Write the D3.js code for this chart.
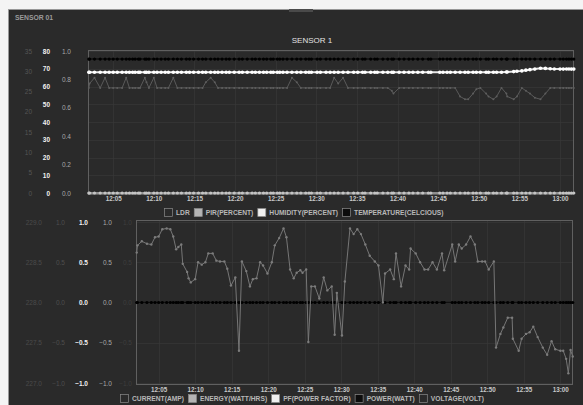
<!DOCTYPE html>
<html>
<head>
<meta charset="utf-8">
<script src="https://cdn.jsdelivr.net/npm/d3@7"></script>
<style>
  body { margin: 0; background: #f4f4f4; }
  text { font-family: "Liberation Sans", Arial, sans-serif; }
</style>
</head>
<body>
<div id="chart"></div>
<script>
// sample times, minutes after 12:00
const minutesAfterNoon = [
  2.0, 2.1, 2.7, 3.4, 4.0, 4.5, 5.0, 5.5, 6.1, 6.6,
  7.0, 7.4, 7.7, 8.1, 8.3, 8.9, 9.1, 9.4, 10.0, 10.4,
  10.9, 11.4, 11.8, 12.4, 12.9, 13.4, 14.0, 14.4, 14.9, 15.5,
  16.0, 16.4, 17.0, 17.5, 17.9, 18.4, 18.9, 19.3, 19.9, 20.5,
  20.9, 21.5, 22.1, 22.5, 23.0, 23.5, 23.9, 24.4, 24.7, 25.2,
  25.5, 25.9, 26.4, 27.0, 27.6, 28.1, 28.7, 29.1, 29.4, 30.1,
  30.5, 31.2, 31.7, 32.2, 32.7, 33.3, 33.9, 34.6, 35.1, 35.7,
  36.0, 36.7, 37.2, 37.5, 38.2, 38.8, 39.3, 39.5, 40.2, 40.8,
  41.4, 41.9, 42.5, 43.1, 43.8, 44.1, 45.2, 45.6, 46.1, 46.5,
  47.1, 47.7, 48.3, 48.7, 49.3, 49.7, 50.2, 50.9, 51.2, 51.8,
  52.2, 52.8, 53.4, 53.5, 54.3, 54.7, 55.3, 55.8, 56.3, 56.9,
  57.6, 58.2, 58.8, 59.3, 60.0, 60.4, 60.8, 61.1, 61.4, 61.7
];
const timeTicks = ["12:05", "12:10", "12:15", "12:20", "12:25", "12:30",
                   "12:35", "12:40", "12:45", "12:50", "12:55", "13:00"];

// SENSOR 1 (top)
const ldr = [
  25.9, 27.0, 28.4, 25.9, 28.4, 25.9, 25.9, 25.9, 25.9, 28.4,
  25.9, 25.9, 25.9, 25.9, 25.9, 28.4, 27.3, 25.9, 28.4, 25.9,
  25.9, 25.9, 25.9, 28.4, 25.9, 25.9, 25.9, 25.9, 25.9, 25.9,
  25.9, 27.3, 28.4, 27.3, 25.9, 25.9, 25.9, 25.9, 25.9, 25.9,
  25.9, 25.9, 25.9, 25.9, 25.9, 25.9, 25.9, 25.9, 25.9, 25.9,
  25.9, 25.9, 25.9, 28.4, 27.3, 25.9, 25.9, 25.9, 25.9, 25.9,
  25.9, 25.9, 25.9, 28.4, 27.0, 28.4, 25.9, 25.9, 25.9, 25.9,
  25.9, 25.9, 25.9, 25.9, 25.9, 25.9, 25.2, 24.5, 25.9, 25.9,
  25.9, 25.9, 25.9, 25.9, 25.9, 25.9, 25.9, 25.9, 25.9, 25.9,
  25.9, 23.8, 23.1, 23.1, 24.5, 25.6, 25.9, 24.5, 23.8, 23.1,
  23.8, 25.9, 24.5, 23.8, 23.1, 23.8, 25.9, 25.2, 24.5, 23.5,
  23.1, 24.5, 25.9, 25.9, 25.9, 25.9, 25.9, 25.9, 25.9, 25.9
];
const pirPercent = [
  0, 0, 0, 0, 0, 0, 0, 0, 0, 0,  0, 0, 0, 0, 0, 0, 0, 0, 0, 0,
  0, 0, 0, 0, 0, 0, 0, 0, 0, 0,  0, 0, 0, 0, 0, 0, 0, 0, 0, 0,
  0, 0, 0, 0, 0, 0, 0, 0, 0, 0,  0, 0, 0, 0, 0, 0, 0, 0, 0, 0,
  0, 0, 0, 0, 0, 0, 0, 0, 0, 0,  0, 0, 0, 0, 0, 0, 0, 0, 0, 0,
  0, 0, 0, 0, 0, 0, 0, 0, 0, 0,  0, 0, 0, 0, 0, 0, 0, 0, 0, 0,
  0, 0, 0, 0, 0, 0, 0, 0, 0, 0,  0, 0, 0, 0, 0, 0, 0, 0, 0, 0
];
const humidity = [
  68, 68, 68, 68, 68, 68, 68, 68, 68, 68,  68, 68, 68, 68, 68, 68, 68, 68, 68, 68,
  68, 68, 68, 68, 68, 68, 68, 68, 68, 68,  68, 68, 68, 68, 68, 68, 68, 68, 68, 68,
  68, 68, 68, 68, 68, 68, 68, 68, 68, 68,  68, 68, 68, 68, 68, 68, 68, 68, 68, 68,
  68, 68, 68, 68, 68, 68, 68, 68, 68, 68,  68, 68, 68, 68, 68, 68, 68, 68, 68, 68,
  68, 68, 68, 68, 68, 68, 68, 68, 68, 68,  68, 68, 68, 68, 68, 68, 68, 68, 68, 68,
  68.0, 68.0, 68.2, 68.2, 68.4, 68.6, 68.8, 69.2, 69.5, 69.8,
  70.3, 70.2, 70.0, 69.9, 69.8, 69.8, 69.9, 69.9, 69.8, 69.8
];
const temperature = [
  33, 33, 33, 33, 33, 33, 33, 33, 33, 33,  33, 33, 33, 33, 33, 33, 33, 33, 33, 33,
  33, 33, 33, 33, 33, 33, 33, 33, 33, 33,  33, 33, 33, 33, 33, 33, 33, 33, 33, 33,
  33, 33, 33, 33, 33, 33, 33, 33, 33, 33,  33, 33, 33, 33, 33, 33, 33, 33, 33, 33,
  33, 33, 33, 33, 33, 33, 33, 33, 33, 33,  33, 33, 33, 33, 33, 33, 33, 33, 33, 33,
  33, 33, 33, 33, 33, 33, 33, 33, 33, 33,  33, 33, 33, 33, 33, 33, 33, 33, 33, 33,
  33, 33, 33, 33, 33, 33, 33, 33, 33, 33,  33, 33, 33, 33, 33, 33, 33, 33, 33, 33
];

// bottom panel
const current = [
  0.62, 0.71, 0.76, 0.73, 0.72, 0.81, 0.82, 0.91, 0.92, 0.91,
  0.82, 0.66, 0.69, 0.72, 0.48, 0.38, 0.30, 0.25, 0.29, 0.50,
  0.47, 0.50, 0.61, 0.61, 0.52, 0.51, 0.51, 0.42, 0.21, 0.31,
  -0.60, 0.51, 0.39, 0.20, 0.29, 0.30, 0.50, 0.46, 0.36, 0.50,
  0.71, 0.80, 0.92, 0.81, 0.41, 0.30, 0.37, 0.40, 0.37, 0.41,
  -0.49, 0.20, 0.20, 0.05, 0.31, 0.15, 0.20, -0.40, 0.12, -0.41,
  0.26, 0.92, 0.85, 0.91, 0.85, 0.72, 0.58, 0.51, 0.46, 0.00,
  0.36, 0.41, 0.29, 0.61, 0.20, 0.46, 0.41, 0.67, 0.61, 0.50,
  0.41, 0.41, 0.50, 0.41, 0.61, 0.40, 0.72, 0.51, 0.72, 0.67,
  0.72, 0.82, 0.72, 0.51, 0.51, 0.51, 0.41, 0.51, -0.56, -0.39,
  -0.31, -0.19, -0.19, -0.45, -0.60, -0.45, -0.39, -0.37, -0.30, -0.43,
  -0.56, -0.65, -0.48, -0.58, -0.60, -0.60, -0.70, -0.88, -0.59, -0.67
];
const powerWatt = [
  0, 0, 0, 0, 0, 0, 0, 0, 0, 0,  0, 0, 0, 0, 0, 0, 0, 0, 0, 0,
  0, 0, 0, 0, 0, 0, 0, 0, 0, 0,  0, 0, 0, 0, 0, 0, 0, 0, 0, 0,
  0, 0, 0, 0, 0, 0, 0, 0, 0, 0,  0, 0, 0, 0, 0, 0, 0, 0, 0, 0,
  0, 0, 0, 0, 0, 0, 0, 0, 0, 0,  0, 0, 0, 0, 0, 0, 0, 0, 0, 0,
  0, 0, 0, 0, 0, 0, 0, 0, 0, 0,  0, 0, 0, 0, 0, 0, 0, 0, 0, 0,
  0, 0, 0, 0, 0, 0, 0, 0, 0, 0,  0, 0, 0, 0, 0, 0, 0, 0, 0, 0
];

// axis ticks
const ldrTicks = [0, 5, 10, 15, 20, 25, 30, 35];
const humidityTicks = [0, 10, 20, 30, 40, 50, 60, 70, 80];
const pirTicks = [0, 0.2, 0.4, 0.6, 0.8, 1.0];
const voltageTicks = [227.0, 227.5, 228.0, 228.5, 229.0];
const unitTicks = [-1.0, -0.5, 0.0, 0.5, 1.0];

const topLegend = ["LDR", "PIR(PERCENT)", "HUMIDITY(PERCENT)", "TEMPERATURE(CELCIOUS)"];
const topLegendColors = ["#2a2a2a", "#b4b4b4", "#f0f0f0", "#0c0c0c"];
const bottomLegend = ["CURRENT(AMP)", "ENERGY(WATT/HRS)", "PF(POWER FACTOR)", "POWER(WATT)", "VOLTAGE(VOLT)"];
const bottomLegendColors = ["#2a2a2a", "#b4b4b4", "#f0f0f0", "#0c0c0c", "#2a2a2a"];

const W = 583, H = 405;
const svg = d3.select("#chart").append("svg")
    .attr("width", W)
    .attr("height", H);

// dashboard panel
svg.append("rect").attr("width", W).attr("height", H).attr("fill", "#f4f4f4");
svg.append("rect")
    .attr("x", 8.5).attr("y", 9.5)
    .attr("width", W).attr("height", H)
    .attr("fill", "#2a2a2a")
    .attr("stroke", "#9c9c9c").attr("stroke-width", 0.7);
svg.append("rect")
    .attr("x", 289).attr("y", 9).attr("width", 24).attr("height", 3)
    .attr("fill", "#4a4a4a");

svg.append("text")
    .attr("x", 15).attr("y", 20)
    .style("font-size", "6.8px").style("font-weight", "bold")
    .attr("fill", "#9a9a9a")
    .text("SENSOR 01");

const parseHM = d3.timeParse("%H:%M");
const noon = parseHM("12:00");
const toTime = m => new Date(+noon + m * 60000);
const timeDomain = [toTime(1.9), toTime(61.6)];

function yLabels(scale, ticks, x, color, bold, fmt) {
    const g = svg.append("g")
        .attr("transform", `translate(${x},0)`)
        .call(d3.axisLeft(scale).tickValues(ticks).tickSize(0).tickPadding(0).tickFormat(fmt));
    g.select(".domain").remove();
    g.selectAll("text")
        .attr("fill", color)
        .style("font-size", "6.5px")
        .style("font-weight", bold ? "bold" : "normal");
}

function xLabels(scale, y, pad) {
    const g = svg.append("g")
        .attr("transform", `translate(0,${y})`)
        .call(d3.axisBottom(scale)
            .tickValues(timeTicks.map(parseHM))
            .tickSize(0).tickPadding(pad)
            .tickFormat(d3.timeFormat("%H:%M")));
    g.select(".domain").remove();
    g.selectAll("text")
        .attr("fill", "#c8c8c8")
        .style("font-size", "6.3px")
        .style("font-weight", "bold");
}

function grid(box, x, y, yTicks) {
    const g = svg.append("g").attr("stroke", "#383838").attr("stroke-width", 0.7);
    g.selectAll(".h").data(yTicks).enter().append("line")
        .attr("x1", box.left).attr("x2", box.right)
        .attr("y1", d => Math.round(y(d)) + 0.5).attr("y2", d => Math.round(y(d)) + 0.5);
    g.selectAll(".v").data(timeTicks.map(parseHM)).enter().append("line")
        .attr("x1", d => Math.round(x(d)) + 0.5).attr("x2", d => Math.round(x(d)) + 0.5)
        .attr("y1", box.top).attr("y2", box.bottom);
}

function frame(box) {
    svg.append("rect")
        .attr("x", box.left + 0.5).attr("y", box.top + 0.5)
        .attr("width", box.right - box.left).attr("height", box.bottom - box.top)
        .attr("fill", "none").attr("stroke", "#606060").attr("stroke-width", 1);
}

function series(x, y, values, lineColor, lineWidth, dotColor, r) {
    const pts = values.map((v, i) => ({t: toTime(minutesAfterNoon[i]), v: v}));
    const g = svg.append("g");
    g.append("path")
        .datum(pts)
        .attr("fill", "none")
        .attr("stroke", lineColor)
        .attr("stroke-width", lineWidth)
        .attr("d", d3.line().x(d => x(d.t)).y(d => y(d.v)));
    g.selectAll("circle")
        .data(pts)
        .enter()
        .append("circle")
        .attr("cx", d => x(d.t))
        .attr("cy", d => y(d.v))
        .attr("r", r)
        .attr("fill", dotColor);
}

function legend(names, colors, x0, y) {
    let x = x0;
    names.forEach((name, i) => {
        svg.append("rect")
            .attr("x", x + 0.5).attr("y", y - 4.5)
            .attr("width", 8).attr("height", 8)
            .attr("fill", colors[i])
            .attr("stroke", "#8a8a8a").attr("stroke-width", 0.7);
        const t = svg.append("text")
            .attr("x", x + 12).attr("y", y)
            .attr("dy", "0.35em")
            .style("font-size", "6.7px")
            .style("font-weight", "bold")
            .attr("fill", "#b8b8b8")
            .text(name);
        x += 12 + t.node().getComputedTextLength() + 4;
    });
}

// ---------- SENSOR 1 ----------
const topBox = {left: 88, right: 573, top: 50, bottom: 194};
const xTop = d3.scaleTime().domain(timeDomain).range([topBox.left, topBox.right]);
const yHum = d3.scaleLinear().domain([0, 80]).range([topBox.bottom - 1, topBox.top + 1]);
const yLdr = d3.scaleLinear().domain([0, 35]).range([topBox.bottom - 1, topBox.top + 1]);
const yPir = d3.scaleLinear().domain([0, 1]).range([topBox.bottom - 1, topBox.top + 1]);
const yTemp = d3.scaleLinear().domain([0, 35]).range([topBox.bottom - 1, topBox.top + 1]);

grid(topBox, xTop, yHum, humidityTicks);
frame(topBox);

svg.append("text")
    .attr("x", 312).attr("y", 43)
    .attr("text-anchor", "middle")
    .style("font-size", "8px")
    .attr("fill", "#e2e2e2")
    .text("SENSOR 1");

yLabels(yLdr, ldrTicks, 32, "#555", false, d3.format("d"));
yLabels(yHum, humidityTicks, 50, "#f2f2f2", true, d3.format("d"));
yLabels(yPir, pirTicks, 71, "#a8a8a8", false, d3.format(".1f"));
xLabels(xTop, topBox.bottom, 3);

series(xTop, yLdr, ldr, "#5a5a5a", 1, "#5e5e5e", 1);
series(xTop, yPir, pirPercent, "#b0b0b0", 1.5, "#c4c4c4", 1.6);
series(xTop, yTemp, temperature, "#101010", 1.5, "#000", 1.6);
series(xTop, yHum, humidity, "#e8e8e8", 2, "#ffffff", 1.8);

legend(topLegend, topLegendColors, 164, 213);

// ---------- power panel ----------
const botBox = {left: 136, right: 572, top: 220, bottom: 384};
const xBot = d3.scaleTime().domain(timeDomain).range([botBox.left, botBox.right]);
const yUnit = d3.scaleLinear().domain([-1, 1]).range([botBox.bottom - 1, botBox.top + 2]);
const yVolt = d3.scaleLinear().domain([227, 229]).range([botBox.bottom - 1, botBox.top + 2]);

grid(botBox, xBot, yUnit, unitTicks);
frame(botBox);

yLabels(yVolt, voltageTicks, 42, "#4a4a4a", false, d3.format(".1f"));
yLabels(yUnit, unitTicks, 65, "#4e4e4e", false, d3.format(".1f"));
yLabels(yUnit, unitTicks, 88, "#f2f2f2", true, d3.format(".1f"));
yLabels(yUnit, unitTicks, 112, "#a8a8a8", false, d3.format(".1f"));
yLabels(yUnit, unitTicks, 132, "#3e3e3e", false, d3.format(".1f"));
xLabels(xBot, botBox.bottom, 4);

series(xBot, yUnit, powerWatt, "#101010", 1.5, "#000", 1.6);
series(xBot, yUnit, current, "#767676", 1, "#7c7c7c", 1.2);

legend(bottomLegend, bottomLegendColors, 120, 399);
</script>
</body>
</html>
